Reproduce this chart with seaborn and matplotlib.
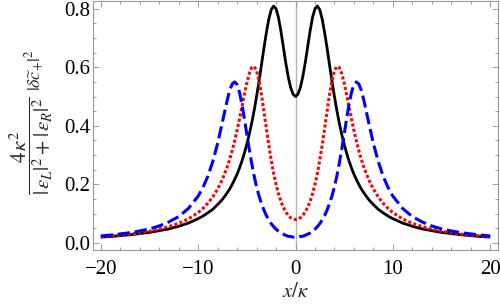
import numpy as np
import pandas as pd
import matplotlib
matplotlib.use("Agg")
import matplotlib.pyplot as plt
import seaborn as sns
from matplotlib.ticker import MultipleLocator

# x/kappa grid
x_vals = [-20, -19, -18, -17, -16, -15, -14, -13, -12, -11, -10, -9.5, -9, -8.5, -8, -7.5, -7,
          -6.75, -6.5, -6.25, -6, -5.75, -5.5, -5.25, -5, -4.75, -4.5, -4.25, -4, -3.75, -3.5,
          -3.25, -3, -2.75, -2.5, -2.25, -2, -1.75, -1.5, -1.25, -1, -0.75, -0.5, -0.25,
          0,
          0.25, 0.5, 0.75, 1, 1.25, 1.5, 1.75, 2, 2.25, 2.5, 2.75, 3, 3.25, 3.5, 3.75, 4,
          4.25, 4.5, 4.75, 5, 5.25, 5.5, 5.75, 6, 6.25, 6.5, 6.75, 7, 7.5, 8, 8.5, 9, 9.5,
          10, 11, 12, 13, 14, 15, 16, 17, 18, 19, 20]

# black solid curve
black_vals = [0.020, 0.022, 0.025, 0.028, 0.032, 0.036, 0.042, 0.048, 0.057, 0.068, 0.083, 0.092,
              0.103, 0.115, 0.131, 0.149, 0.172, 0.185, 0.200, 0.217, 0.235, 0.256, 0.280, 0.307,
              0.337, 0.371, 0.409, 0.452, 0.500, 0.552, 0.607, 0.664, 0.717, 0.763, 0.796, 0.809,
              0.800, 0.770, 0.724, 0.670, 0.615, 0.568, 0.531, 0.508,
              0.500,
              0.508, 0.531, 0.568, 0.615, 0.670, 0.724, 0.770, 0.800, 0.809, 0.796, 0.763, 0.717,
              0.664, 0.607, 0.552, 0.500, 0.452, 0.409, 0.371, 0.337, 0.307, 0.280, 0.256, 0.235,
              0.217, 0.200, 0.185, 0.172, 0.149, 0.131, 0.115, 0.103, 0.092, 0.083, 0.068, 0.057,
              0.048, 0.042, 0.036, 0.032, 0.028, 0.025, 0.022, 0.020]

# red dotted curve
red_vals = [0.021, 0.024, 0.027, 0.030, 0.035, 0.040, 0.047, 0.056, 0.067, 0.082, 0.104, 0.118,
            0.136, 0.157, 0.184, 0.218, 0.261, 0.287, 0.316, 0.349, 0.385, 0.424, 0.465, 0.507,
            0.546, 0.578, 0.599, 0.603, 0.588, 0.555, 0.508, 0.451, 0.393, 0.336, 0.284, 0.238,
            0.200, 0.168, 0.142, 0.122, 0.106, 0.094, 0.086, 0.082,
            0.080,
            0.082, 0.086, 0.094, 0.106, 0.122, 0.142, 0.168, 0.200, 0.238, 0.284, 0.336, 0.393,
            0.451, 0.508, 0.555, 0.588, 0.603, 0.599, 0.578, 0.546, 0.507, 0.465, 0.424, 0.385,
            0.349, 0.316, 0.287, 0.261, 0.218, 0.184, 0.157, 0.136, 0.118, 0.104, 0.082, 0.067,
            0.056, 0.047, 0.040, 0.035, 0.030, 0.027, 0.024, 0.021]

# blue dashed curve
blue_vals = [0.024, 0.027, 0.031, 0.035, 0.041, 0.048, 0.058, 0.072, 0.090, 0.118, 0.160, 0.190,
             0.228, 0.278, 0.340, 0.414, 0.490, 0.522, 0.543, 0.550, 0.541, 0.514, 0.473, 0.424,
             0.371, 0.320, 0.272, 0.229, 0.192, 0.161, 0.135, 0.113, 0.094, 0.079, 0.066, 0.056,
             0.047, 0.040, 0.034, 0.030, 0.026, 0.023, 0.022, 0.020,
             0.020,
             0.020, 0.022, 0.023, 0.026, 0.030, 0.034, 0.040, 0.047, 0.056, 0.066, 0.079, 0.094,
             0.113, 0.135, 0.161, 0.192, 0.229, 0.272, 0.320, 0.371, 0.424, 0.473, 0.514, 0.541,
             0.550, 0.543, 0.522, 0.490, 0.414, 0.340, 0.278, 0.228, 0.190, 0.160, 0.118, 0.090,
             0.072, 0.058, 0.048, 0.041, 0.035, 0.031, 0.027, 0.024]

x_ticks = [-20, -10, 0, 10, 20]
y_ticks = [0.0, 0.2, 0.4, 0.6, 0.8]

sns.set_style("ticks")
plt.rcParams["font.family"] = ["Liberation Serif", "DejaVu Serif"]
plt.rcParams["mathtext.fontset"] = "stix"

df = pd.DataFrame({"x": x_vals, "black": black_vals, "red": red_vals, "blue": blue_vals})

fig = plt.figure(figsize=(5, 3.07), dpi=100)
ax = fig.add_axes([93 / 500, 1 - 250 / 307, (498 - 93) / 500, 249.5 / 307])

ax.axvline(0, color="#b4b4b4", lw=1.0, zorder=0)

sns.lineplot(data=df, x="x", y="black", color="black", lw=2.0, ax=ax,
             errorbar=None, solid_capstyle="butt")
sns.lineplot(data=df, x="x", y="red", color="#ff0000", lw=2.2, ax=ax,
             errorbar=None, linestyle=(0, (1.0, 0.75)), dash_capstyle="butt")
sns.lineplot(data=df, x="x", y="blue", color="#0000ff", lw=2.2, ax=ax,
             errorbar=None, linestyle=(0, (4.0, 1.6)), dash_capstyle="butt")

ax.set_xlim(-20.8, 20.8)
ax.set_ylim(-0.024, 0.828)
ax.set_xticks(x_ticks)
ax.set_yticks(y_ticks)
ax.xaxis.set_minor_locator(MultipleLocator(2))
ax.yaxis.set_minor_locator(MultipleLocator(0.05))
ax.tick_params(which="both", direction="in", top=True, right=True,
               color="#999999", width=0.7, labelsize=15, labelcolor="black")
ax.tick_params(which="major", length=4.5)
ax.tick_params(which="minor", length=2.5)
ax.tick_params(axis="x", pad=7)
ax.tick_params(axis="y", pad=2)
for sp in ax.spines.values():
    sp.set_color("#999999")
    sp.set_linewidth(0.8)

ax.set_xlabel(r"$x/\kappa$", fontsize=15, labelpad=3)
ax.set_ylabel("")

# y label: fraction plus the smaller |dc+|^2 factor
fig.text(0.062, 0.524, r"$\dfrac{4\,\kappa^2}{|\,\varepsilon_L|^2+|\,\varepsilon_R|^2}$",
         rotation=90, ha="center", va="center", fontsize=15)
fig.text(0.069, 0.772, r"$|\delta\widetilde{c}_{+}|^2$",
         rotation=90, ha="center", va="center", fontsize=13)

fig.savefig("out.png", dpi=100)
